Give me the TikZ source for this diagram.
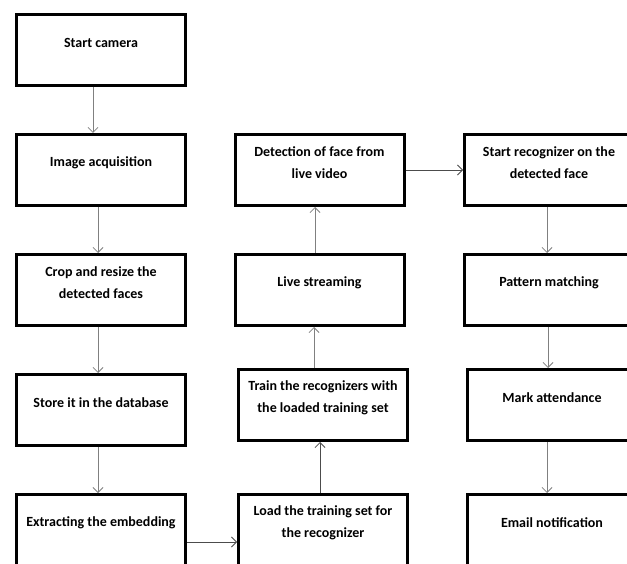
\documentclass[tikz,border=0pt]{standalone}
\usepackage{fontspec}
\setmainfont{Carlito}
\usetikzlibrary{arrows.meta}

\tikzset{
	stage/.style={draw=black, line width=3pt, minimum width=169pt, minimum height=71pt, inner sep=0pt},
	caption/.style={align=center, font=\bfseries\fontsize{14}{22}\selectfont, yshift=7.5pt},
	flow/.style={->, draw=gray, line width=0.8pt},
	flowdark/.style={->, draw=black!70, line width=0.8pt},
	>={Straight Barb[length=5pt,width=10pt]}
}

\begin{document}
\begin{tikzpicture}[x=1pt, y=-1pt]
	\clip (0, 0) rectangle (627, 564);
	\fill[white] (0, 0) rectangle (627, 564);

	% first column
	\node[stage, label={[caption]center:Start camera}] (camera) at (101, 50) {};
	\node[stage, label={[caption]center:Image acquisition}] (acquire) at (101, 170) {};
	\node[stage, label={[caption]center:Crop and resize the\\detected faces}] (crop) at (101, 290) {};
	\node[stage, label={[caption]center:Store it in the database}] (store) at (101, 410) {};
	\node[stage, label={[caption]center:Extracting the embedding}] (embed) at (101, 530) {};

	% second column
	\node[stage, label={[caption]center:Load the training set for\\the recognizer}] (load) at (323, 530) {};
	\node[stage, label={[caption]center:Train the recognizers with\\the loaded training set}] (train) at (323, 405) {};
	\node[stage, label={[caption]center:Live streaming}] (stream) at (319.5, 290) {};
	\node[stage, label={[caption]center:Detection of face from\\live video}] (detect) at (319.5, 170) {};

	% third column
	\node[stage, label={[caption]center:Start recognizer on the\\detected face}] (recog) at (549, 170) {};
	\node[stage, label={[caption]center:Pattern matching}] (match) at (549, 290) {};
	\node[stage, label={[caption]center:Mark attendance}] (mark) at (552, 405) {};
	\node[stage, label={[caption]center:Email notification}] (email) at (552, 530) {};

	% connectors
	\draw[flow] ([xshift=-8pt]camera.south) -- ([xshift=-8pt]acquire.north);
	\foreach \a/\b in {acquire/crop, crop/store, store/embed}
		\draw[flow] ([xshift=-3pt]\a.south) -- ([xshift=-3pt]\b.north);
	\draw[flowdark] ([yshift=-12pt]embed.east) -- ([yshift=-12pt]load.west);
	\draw[flowdark] ([xshift=-3pt]load.north) -- ([xshift=-3pt]train.south);
	\draw[flow] ([xshift=-9pt]train.north) -- ([xshift=-9pt]train.north |- stream.south);
	\draw[flow] ([xshift=-4.5pt]stream.north) -- ([xshift=-4.5pt]detect.south);
	\draw[flowdark] (detect.east) -- (recog.west);
	\draw[flow] ([xshift=-2pt]recog.south) -- ([xshift=-2pt]match.north);
	\draw[flow] ([xshift=-1pt]match.south) -- ([xshift=-1pt]match.south |- mark.north);
	\draw[flow] ([xshift=-5pt]mark.south) -- ([xshift=-5pt]email.north);
\end{tikzpicture}
\end{document}
